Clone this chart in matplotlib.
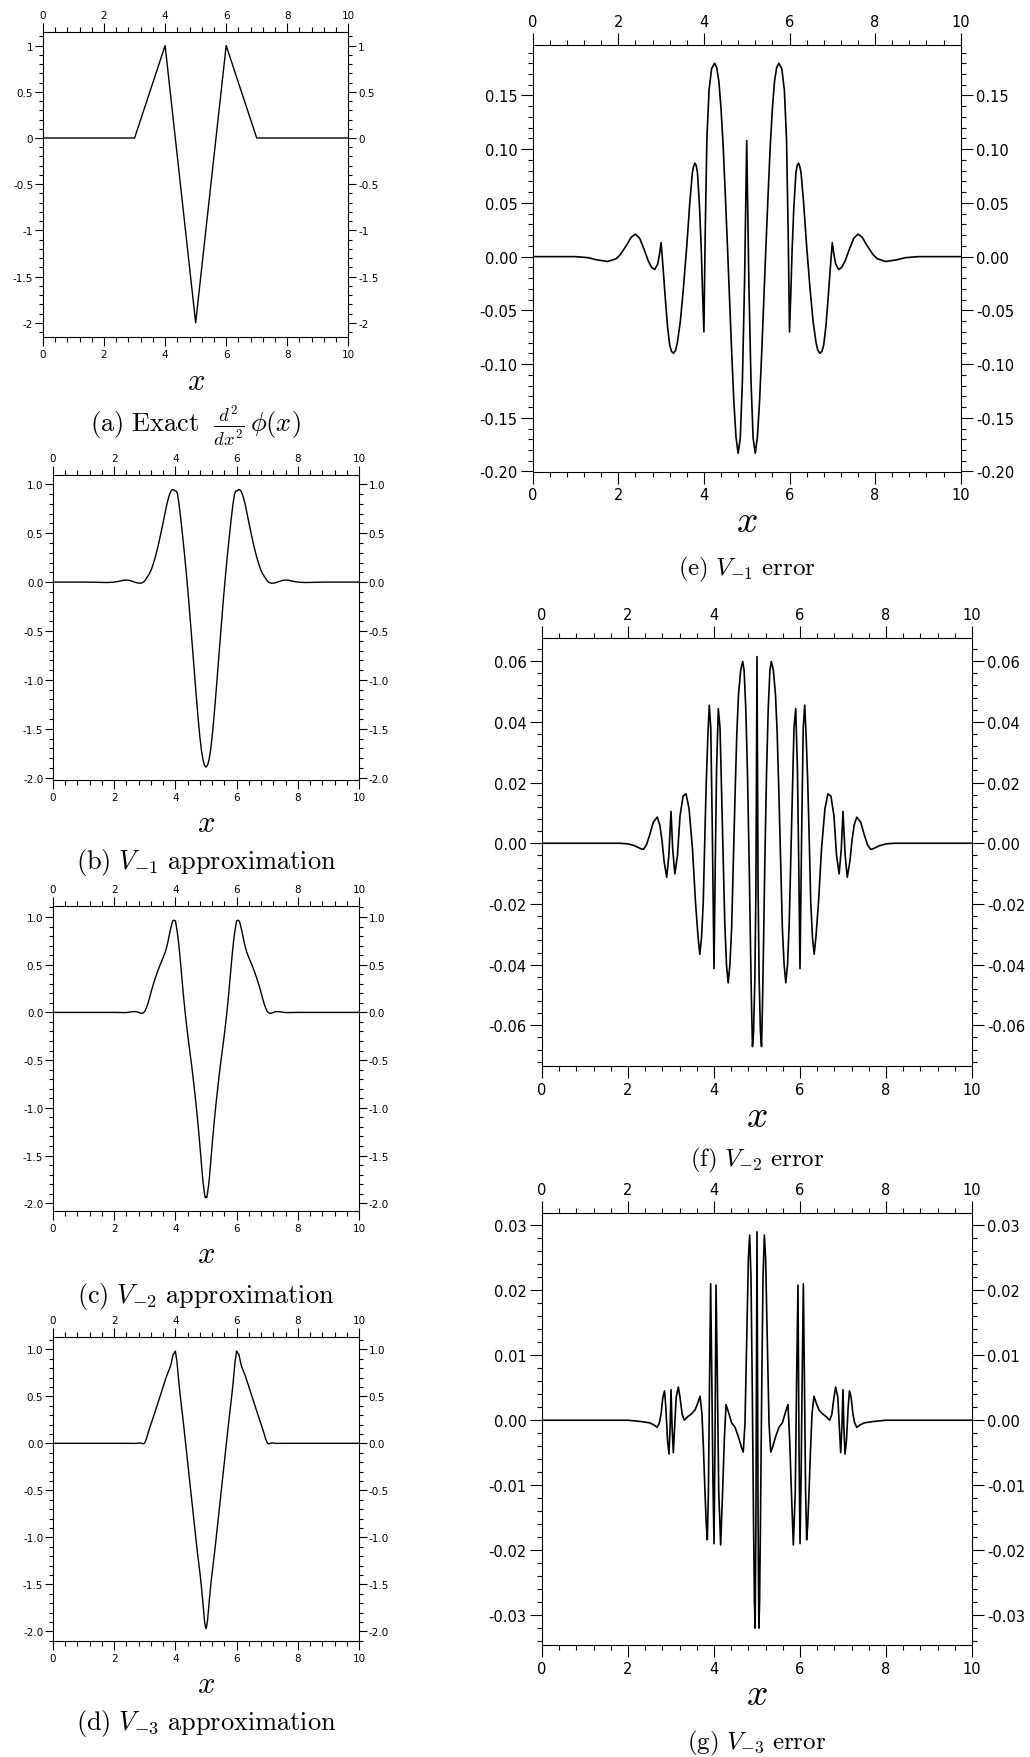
import numpy as np
import matplotlib
matplotlib.use("Agg")
import matplotlib.pyplot as plt
from matplotlib.ticker import MultipleLocator

plt.rcParams['font.family'] = 'DejaVu Sans'
plt.rcParams['mathtext.fontset'] = 'cm'
plt.rcParams['axes.unicode_minus'] = False

# ---- data ----
x_exact = [0.0, 3.0, 4.0, 5.0, 6.0, 7.0, 10.0]
y_exact = [0.0, 0.0, 1.0, -2.0, 1.0, 0.0, 0.0]

# level -1: approximation (b) and error (e)
x_lvl1 = [0.0, 1.0, 1.3, 1.5, 1.75, 1.95, 2.05, 2.2, 2.3, 2.4, 2.5, 2.6, 2.7, 2.78, 2.85, 2.92, 2.97, 3.0,
          3.03, 3.06, 3.1, 3.15, 3.2, 3.24, 3.29, 3.34, 3.38, 3.45, 3.52, 3.6, 3.67, 3.73, 3.76, 3.79, 3.82,
          3.85, 3.9, 3.94, 3.97, 4.0,
          4.03, 4.07, 4.12, 4.18, 4.25, 4.3, 4.35, 4.4, 4.45, 4.5, 4.55, 4.6, 4.65, 4.7, 4.75, 4.8, 4.85, 4.9,
          4.95, 5.0,
          5.05, 5.1, 5.15, 5.2, 5.25, 5.3, 5.35, 5.4, 5.45, 5.5, 5.55, 5.6, 5.65, 5.7, 5.75, 5.82, 5.88, 5.93,
          5.97, 6.0, 6.03, 6.06, 6.1, 6.15, 6.18, 6.21, 6.24, 6.27, 6.33, 6.4, 6.48, 6.55, 6.62, 6.66, 6.71,
          6.76, 6.8, 6.85, 6.9, 6.94, 6.97, 7.0,
          7.03, 7.08, 7.15, 7.22, 7.3, 7.4, 7.5, 7.6, 7.7, 7.8, 7.95, 8.05, 8.25, 8.5, 8.7, 9.0, 10.0]
approx_lvl1 = [0, 0, -0.001, -0.003, -0.0045, -0.002, 0.002, 0.011, 0.018, 0.021, 0.017, 0.007, -0.004, -0.010,
               -0.012, -0.007, 0.004, 0.013,
               0.028, 0.042, 0.060, 0.085, 0.118, 0.152, 0.200, 0.253, 0.300, 0.390, 0.490, 0.610, 0.720, 0.808,
               0.844, 0.877, 0.905, 0.928, 0.945, 0.945, 0.935, 0.930,
               0.930, 0.900, 0.795, 0.635, 0.430, 0.276, 0.113, -0.062, -0.247, -0.442, -0.640, -0.840, -1.040,
               -1.235, -1.418, -1.583, -1.719, -1.815, -1.873, -1.892,
               -1.873, -1.815, -1.719, -1.583, -1.418, -1.235, -1.040, -0.840, -0.640, -0.442, -0.247, -0.062,
               0.113, 0.276, 0.430, 0.635, 0.795, 0.900, 0.930, 0.930, 0.935, 0.945, 0.945, 0.928, 0.905, 0.877,
               0.844, 0.808, 0.720, 0.610, 0.490, 0.390, 0.300, 0.253, 0.200, 0.152, 0.118, 0.085, 0.060, 0.042,
               0.028, 0.013,
               0.004, -0.007, -0.012, -0.010, -0.004, 0.007, 0.017, 0.021, 0.018, 0.011, 0.002, -0.002, -0.0045,
               -0.003, -0.001, 0, 0]
err_lvl1 = [0, 0, -0.001, -0.003, -0.0045, -0.002, 0.002, 0.011, 0.018, 0.021, 0.017, 0.007, -0.004, -0.010,
            -0.012, -0.007, 0.004, 0.013,
            -0.002, -0.018, -0.040, -0.065, -0.082, -0.088, -0.090, -0.087, -0.080, -0.060, -0.030, 0.010, 0.050,
            0.078, 0.084, 0.087, 0.085, 0.078, 0.045, 0.005, -0.035, -0.070,
            0.020, 0.110, 0.155, 0.175, 0.180, 0.176, 0.163, 0.138, 0.103, 0.058, 0.010, -0.040, -0.090, -0.135,
            -0.168, -0.183, -0.169, -0.115, -0.023, 0.108,
            -0.023, -0.115, -0.169, -0.183, -0.168, -0.135, -0.090, -0.040, 0.010, 0.058, 0.103, 0.138, 0.163,
            0.176, 0.180, 0.175, 0.155, 0.110, 0.020, -0.070, -0.035, 0.005, 0.045, 0.078, 0.085, 0.087, 0.084,
            0.078, 0.050, 0.010, -0.030, -0.060, -0.080, -0.087, -0.090, -0.088, -0.082, -0.065, -0.040, -0.018,
            -0.002, 0.013,
            0.004, -0.007, -0.012, -0.010, -0.004, 0.007, 0.017, 0.021, 0.018, 0.011, 0.002, -0.002, -0.0045,
            -0.003, -0.001, 0, 0]

# level -2: approximation (c) and error (f)
x_lvl2 = [0.0, 1.8, 2.0, 2.15, 2.3, 2.36, 2.43, 2.51, 2.59, 2.68, 2.74, 2.79, 2.84, 2.9, 2.95, 3.0,
          3.04, 3.09, 3.15, 3.21, 3.28, 3.35, 3.42, 3.5, 3.57, 3.63, 3.67, 3.71, 3.75, 3.79, 3.82, 3.855, 3.89,
          3.925, 3.96, 4.0,
          4.03, 4.06, 4.1, 4.14, 4.19, 4.25, 4.29, 4.33, 4.37, 4.41, 4.45, 4.49, 4.53, 4.57, 4.62, 4.667, 4.7,
          4.74, 4.78, 4.82, 4.85, 4.875, 4.895, 4.92, 4.95, 4.975, 5.0,
          5.025, 5.05, 5.08, 5.105, 5.125, 5.15, 5.18, 5.22, 5.26, 5.3, 5.333, 5.38, 5.43, 5.47, 5.51, 5.55,
          5.59, 5.63, 5.67, 5.71, 5.75, 5.81, 5.86, 5.9, 5.94, 5.97, 6.0,
          6.04, 6.075, 6.11, 6.145, 6.18, 6.21, 6.25, 6.29, 6.33, 6.37, 6.43, 6.5, 6.58, 6.65, 6.72, 6.79,
          6.85, 6.91, 6.96, 7.0,
          7.05, 7.1, 7.16, 7.21, 7.26, 7.32, 7.41, 7.49, 7.57, 7.64, 7.7, 7.85, 8.0, 8.2, 10.0]
approx_lvl2 = [0, 0, -0.0002, -0.0008, -0.0018, -0.002, -0.0005, 0.003, 0.007, 0.0086, 0.006, 0.001, -0.006,
               -0.0112, -0.004, 0.0105,
               0.038, 0.080, 0.146, 0.219, 0.296, 0.366, 0.431, 0.498, 0.551, 0.599, 0.633, 0.679, 0.731, 0.794,
               0.840, 0.890, 0.936, 0.963, 0.965, 0.959,
               0.904, 0.845, 0.744, 0.618, 0.439, 0.224, 0.090, -0.036, -0.150, -0.258, -0.356, -0.454, -0.554,
               -0.661, -0.803, -0.941, -1.043, -1.176, -1.318, -1.468, -1.585, -1.680, -1.752, -1.822, -1.895,
               -1.940, -1.938,
               -1.940, -1.895, -1.822, -1.752, -1.680, -1.585, -1.468, -1.318, -1.176, -1.043, -0.941, -0.803,
               -0.661, -0.554, -0.454, -0.356, -0.258, -0.150, -0.036, 0.090, 0.224, 0.439, 0.618, 0.744, 0.845,
               0.904, 0.959,
               0.965, 0.963, 0.936, 0.890, 0.840, 0.794, 0.731, 0.679, 0.633, 0.599, 0.551, 0.498, 0.431, 0.366,
               0.296, 0.219, 0.146, 0.080, 0.038, 0.0105,
               -0.004, -0.0112, -0.006, 0.001, 0.006, 0.0086, 0.007, 0.003, -0.0005, -0.002, -0.0018, -0.0008,
               -0.0002, 0, 0]
err_lvl2 = [0, 0, -0.0002, -0.0008, -0.0018, -0.002, -0.0005, 0.003, 0.007, 0.0086, 0.006, 0.001, -0.006,
            -0.0112, -0.004, 0.0105,
            -0.002, -0.0101, -0.004, 0.009, 0.0155, 0.0163, 0.0114, -0.002, -0.0195, -0.031, -0.0366, -0.031,
            -0.0195, 0.004, 0.02, 0.0345, 0.0455, 0.038, 0.005, -0.0413,
            -0.006, 0.0246, 0.0444, 0.038, 0.009, -0.026, -0.04, -0.046, -0.04, -0.028, -0.006, 0.016, 0.036,
            0.049, 0.057, 0.0599, 0.057, 0.044, 0.022, -0.008, -0.035, -0.055, -0.067, -0.062, -0.045, -0.015,
            0.0615,
            -0.015, -0.045, -0.062, -0.067, -0.055, -0.035, -0.008, 0.022, 0.044, 0.057, 0.0599, 0.057, 0.049,
            0.036, 0.016, -0.006, -0.028, -0.04, -0.046, -0.04, -0.026, 0.009, 0.038, 0.0444, 0.0246, -0.006,
            -0.0413,
            0.005, 0.038, 0.0455, 0.0345, 0.02, 0.004, -0.0195, -0.031, -0.0366, -0.031, -0.0195, -0.002, 0.0114,
            0.0163, 0.0155, 0.009, -0.004, -0.0101, -0.002, 0.0105,
            -0.004, -0.0112, -0.006, 0.001, 0.006, 0.0086, 0.007, 0.003, -0.0005, -0.002, -0.0018, -0.0008,
            -0.0002, 0, 0]

# level -3: approximation (d) and error (g)
x_lvl3 = [0.0, 2.0, 2.3, 2.5, 2.6, 2.68, 2.73, 2.77, 2.81, 2.85, 2.88, 2.92, 2.953, 2.98, 3.0,
          3.025, 3.054, 3.085, 3.12, 3.17, 3.21, 3.26, 3.31, 3.38, 3.48, 3.56, 3.62, 3.675, 3.72, 3.755, 3.79,
          3.82, 3.845, 3.87, 3.895, 3.922, 3.95, 3.975, 4.0,
          4.023, 4.047, 4.075, 4.11, 4.155, 4.2, 4.24, 4.28, 4.33, 4.41, 4.49, 4.57, 4.64, 4.68, 4.72, 4.76,
          4.8, 4.829, 4.86, 4.89, 4.92, 4.94, 4.957, 4.975, 5.0,
          5.025, 5.043, 5.06, 5.08, 5.11, 5.14, 5.171, 5.2, 5.24, 5.28, 5.32, 5.36, 5.43, 5.51, 5.59, 5.67,
          5.72, 5.76, 5.8, 5.845, 5.89, 5.925, 5.953, 5.977, 6.0,
          6.025, 6.05, 6.078, 6.105, 6.13, 6.155, 6.18, 6.21, 6.245, 6.28, 6.325, 6.38, 6.44, 6.52, 6.62,
          6.69, 6.74, 6.79, 6.83, 6.88, 6.915, 6.946, 6.975, 7.0,
          7.02, 7.047, 7.08, 7.12, 7.15, 7.19, 7.23, 7.27, 7.32, 7.4, 7.5, 7.7, 8.0, 10.0]
approx_lvl3 = [0, 0, -0.0002, -0.0004, -0.0007, -0.0011, -0.0004, 0.001, 0.0035, 0.0045, 0.002, -0.0032,
               -0.0052, -0.001, 0.0047,
               0.024, 0.049, 0.084, 0.1235, 0.175, 0.2135, 0.261, 0.310, 0.3805, 0.481, 0.5616, 0.6226, 0.6787,
               0.721, 0.7505, 0.779, 0.804, 0.8266, 0.859, 0.900, 0.943, 0.956, 0.966, 0.981,
               0.927, 0.880, 0.783, 0.659, 0.516, 0.389, 0.277, 0.162, 0.011, -0.230, -0.471, -0.713, -0.924,
               -1.045, -1.161, -1.268, -1.375, -1.459, -1.558, -1.665, -1.776, -1.848, -1.903, -1.940, -1.971,
               -1.940, -1.903, -1.848, -1.776, -1.665, -1.558, -1.459, -1.375, -1.268, -1.161, -1.045, -0.924,
               -0.713, -0.471, -0.230, 0.011, 0.162, 0.277, 0.389, 0.516, 0.659, 0.783, 0.880, 0.927, 0.981,
               0.966, 0.956, 0.943, 0.900, 0.859, 0.8266, 0.804, 0.779, 0.7505, 0.721, 0.6787, 0.6226, 0.5616,
               0.481, 0.3805, 0.310, 0.261, 0.2135, 0.175, 0.1235, 0.084, 0.049, 0.024, 0.0047,
               -0.001, -0.0052, -0.0032, 0.002, 0.0045, 0.0035, 0.001, -0.0004, -0.0011, -0.0007, -0.0004,
               -0.0002, 0, 0]
err_lvl3 = [0, 0, -0.0002, -0.0004, -0.0007, -0.0011, -0.0004, 0.001, 0.0035, 0.0045, 0.002, -0.0032,
            -0.0052, -0.001, 0.0047,
            -0.001, -0.005, -0.001, 0.0035, 0.0051, 0.0035, 0.0009, 0.0, 0.0005, 0.001, 0.0016, 0.0026, 0.0037,
            0.001, -0.0045, -0.011, -0.016, -0.0184, -0.011, 0.005, 0.021, 0.006, -0.009, -0.019,
            -0.004, 0.0208, 0.008, -0.011, -0.0192, -0.011, -0.003, 0.0024, 0.0014, -0.0004, -0.0011, -0.0026,
            -0.0042, -0.0049, -0.0006, 0.0121, 0.025, 0.0285, 0.022, 0.005, -0.016, -0.028, -0.032, -0.015,
            0.029,
            -0.015, -0.032, -0.028, -0.016, 0.005, 0.022, 0.0285, 0.025, 0.0121, -0.0006, -0.0049, -0.0042,
            -0.0026, -0.0011, -0.0004, 0.0014, 0.0024, -0.003, -0.011, -0.0192, -0.011, 0.008, 0.0208, -0.004,
            -0.019,
            -0.009, 0.006, 0.021, 0.005, -0.011, -0.0184, -0.016, -0.011, -0.0045, 0.001, 0.0037, 0.0026,
            0.0016, 0.001, 0.0005, 0.0, 0.0009, 0.0035, 0.0051, 0.0035, -0.001, -0.005, -0.001, 0.0047,
            -0.001, -0.0052, -0.0032, 0.002, 0.0045, 0.0035, 0.001, -0.0004, -0.0011, -0.0007, -0.0004,
            -0.0002, 0, 0]

# tick values / labels
x_ticks = [0, 2, 4, 6, 8, 10]
x_ticklabels = ['0', '2', '4', '6', '8', '10']
y_ticks_a = [1, 0.5, 0, -0.5, -1, -1.5, -2]
y_labels_a = ['1', '0.5', '0', '-0.5', '-1', '-1.5', '-2']
y_ticks_approx = [1, 0.5, 0, -0.5, -1, -1.5, -2]
y_labels_approx = ['1.0', '0.5', '0.0', '-0.5', '-1.0', '-1.5', '-2.0']
y_ticks_e = [0.15, 0.10, 0.05, 0.0, -0.05, -0.10, -0.15, -0.20]
y_labels_e = ['0.15', '0.10', '0.05', '0.00', '-0.05', '-0.10', '-0.15', '-0.20']
y_ticks_f = [0.06, 0.04, 0.02, 0.0, -0.02, -0.04, -0.06]
y_labels_f = ['0.06', '0.04', '0.02', '0.00', '-0.02', '-0.04', '-0.06']
y_ticks_g = [0.03, 0.02, 0.01, 0.0, -0.01, -0.02, -0.03]
y_labels_g = ['0.03', '0.02', '0.01', '0.00', '-0.01', '-0.02', '-0.03']

captions = [r'$\mathrm{(a)\ Exact}\ \ \frac{d^2}{dx^2}\,\phi(x)$',
            r'$\mathrm{(b)}\ V_{-1}\ \mathrm{approximation}$',
            r'$\mathrm{(c)}\ V_{-2}\ \mathrm{approximation}$',
            r'$\mathrm{(d)}\ V_{-3}\ \mathrm{approximation}$',
            r'$\mathrm{(e)}\ V_{-1}\ \mathrm{error}$',
            r'$\mathrm{(f)}\ V_{-2}\ \mathrm{error}$',
            r'$\mathrm{(g)}\ V_{-3}\ \mathrm{error}$']

W, H = 1030, 1758
fig = plt.figure(figsize=(W / 100, H / 100), dpi=100)


def panel(box, x, y, ylim, yticks, ylabels, yminor, small):
    l, t, r, b = box
    ax = fig.add_axes([l / W, 1 - b / H, (r - l) / W, (b - t) / H])
    ax.plot(x, y, color='black', lw=1.0 if small else 1.2)
    ax.set_xlim(0, 10)
    ax.set_ylim(*ylim)
    ax.set_xticks(x_ticks, labels=x_ticklabels)
    ax.set_yticks(yticks, labels=ylabels)
    ax.xaxis.set_minor_locator(MultipleLocator(0.4))
    ax.yaxis.set_minor_locator(MultipleLocator(yminor))
    for s in ax.spines.values():
        s.set_linewidth(0.8)
    if small:
        fs, xmaj, xmin, ymaj, ymin, xpad, ypad = 7.5, 6.5, 3.5, 5.5, 2.8, 2.0, 1.5
    else:
        fs, xmaj, xmin, ymaj, ymin, xpad, ypad = 10.5, 8.5, 3.6, 8.5, 3.6, 3.0, 2.5
    ax.tick_params(which='both', direction='out', top=True, right=True,
                   labeltop=True, labelright=True, width=0.8, labelsize=fs)
    ax.tick_params(axis='x', which='major', length=xmaj, pad=xpad)
    ax.tick_params(axis='x', which='minor', length=xmin)
    ax.tick_params(axis='y', which='major', length=ymaj, pad=ypad)
    ax.tick_params(axis='y', which='minor', length=ymin)
    return ax


def label(cx, base, text, size):
    fig.text(cx / W, 1 - base / H, text, ha='center', va='baseline', fontsize=size)


boxes = [(43, 32.7, 348.3, 337.7), (53, 476, 359, 781), (53, 906.7, 359, 1211.7), (53, 1337.7, 359, 1642.3),
         (532.7, 46, 960.7, 472.5), (542, 638.5, 972, 1067), (542, 1214, 972, 1646)]

panel(boxes[0], x_exact, y_exact, (-2.15, 1.15), y_ticks_a, y_labels_a, 0.1, True)
panel(boxes[1], x_lvl1, approx_lvl1, (-2.024, 1.095), y_ticks_approx, y_labels_approx, 0.1, True)
panel(boxes[2], x_lvl2, approx_lvl2, (-2.078, 1.118), y_ticks_approx, y_labels_approx, 0.1, True)
panel(boxes[3], x_lvl3, approx_lvl3, (-2.106, 1.134), y_ticks_approx, y_labels_approx, 0.1, True)
panel(boxes[4], x_lvl1, err_lvl1, (-0.20, 0.197), y_ticks_e, y_labels_e, 0.01, False)
panel(boxes[5], x_lvl2, err_lvl2, (-0.0734, 0.0678), y_ticks_f, y_labels_f, 0.004, False)
panel(boxes[6], x_lvl3, err_lvl3, (-0.0346, 0.0319), y_ticks_g, y_labels_g, 0.002, False)

# x labels and captions (baselines in pixels)
xlab_base = [390, 831.7, 1263.3, 1693.3, 532, 1127, 1705]
cap_base = [432, 869, 1303, 1730, 575, 1166, 1749]
for i, box in enumerate(boxes):
    cx = (box[0] + box[2]) / 2
    label(cx, xlab_base[i], r'$x$', 22 if i < 4 else 27)
    label(cx, cap_base[i], captions[i], 19 if i < 4 else 18)

fig.savefig('out.png', dpi=100)
